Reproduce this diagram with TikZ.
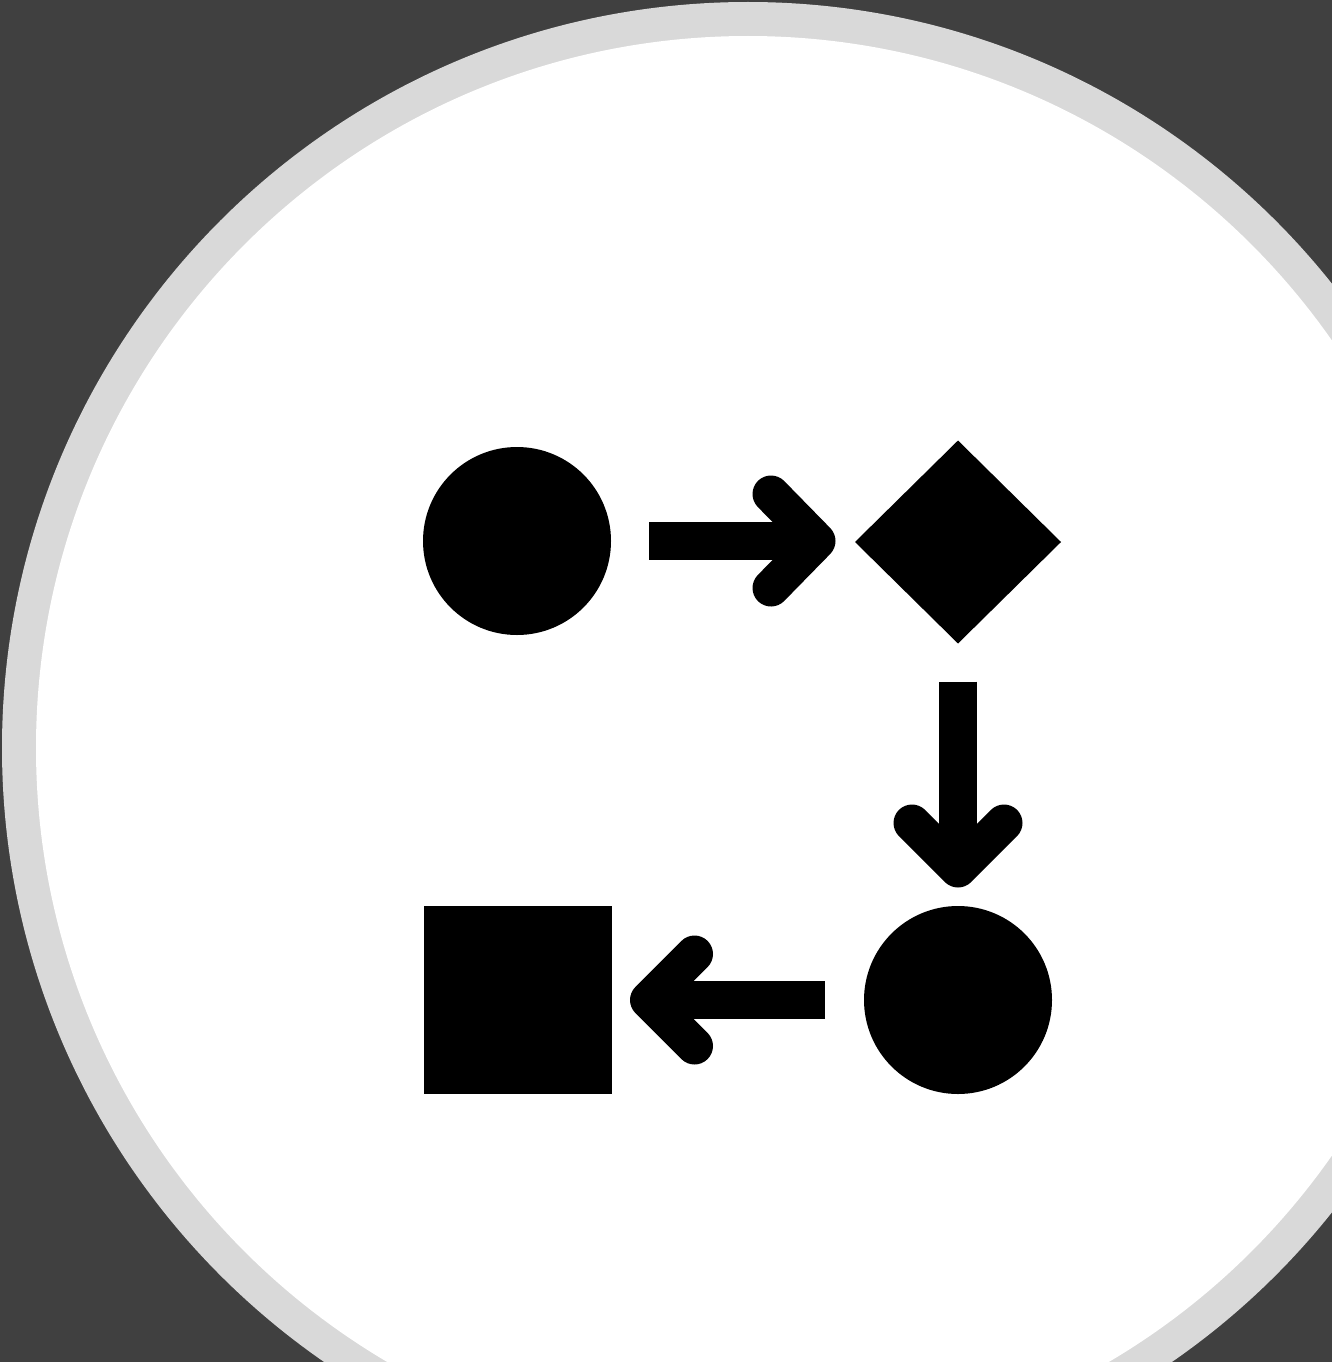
\documentclass[tikz,border=0pt]{standalone}
\usetikzlibrary{calc,shapes.geometric}
\definecolor{bgdark}{HTML}{404040}
\definecolor{ringgray}{HTML}{D9D9D9}
\begin{document}
\begin{tikzpicture}[x=1pt,y=-1pt,
  shapefill/.style={fill=black,draw=none,inner sep=0pt,outer sep=0pt},
  shaft/.style={line width=38pt,line cap=butt,draw=black},
  chev/.style={line width=37pt,line cap=round,line join=round,draw=black}]
  % background and ring
  \fill[bgdark] (0,0) rectangle (1332,1362);
  \useasboundingbox (0,0) rectangle (1332,1362);
  \begin{scope}
    \clip (0,0) rectangle (1332,1362);
    \fill[ringgray] (748,748) circle[radius=746];
    \fill[white] (748,748) circle[radius=712];
  \end{scope}
  % shapes
  \node[shapefill,circle,minimum size=188pt] (c1) at (517,541) {};
  \node[shapefill,diamond,minimum width=206pt,minimum height=203pt] (d) at (958,542) {};
  \node[shapefill,circle,minimum size=188pt] (c2) at (958,1000) {};
  \node[shapefill,rectangle,minimum size=188pt] (sq) at (517.5,1000) {};
  % connector 1: c1 -> d
  \coordinate (a1s) at ([xshift=38pt]c1.east);
  \coordinate (a1t) at ([xshift=-38pt]d.west |- c1.east);
  \draw[shaft] (a1s) -- (a1t);
  \draw[chev] ($(a1t)+(-46,-47)$) -- (a1t) -- ($(a1t)+(-46,47)$);
  % connector 2: d -> c2
  \coordinate (a2s) at ([yshift=-38pt]d.south);
  \coordinate (a2t) at ([yshift=37pt]c2.north);
  \draw[shaft] (a2s) -- (a2t);
  \draw[chev] ($(a2t)+(-46,-46)$) -- (a2t) -- ($(a2t)+(46,-46)$);
  % connector 3: c2 -> sq
  \coordinate (a3s) at ([xshift=-39pt]c2.west);
  \coordinate (a3t) at ([xshift=37pt]sq.east);
  \draw[shaft] (a3s) -- (a3t);
  \draw[chev] ($(a3t)+(46,-46)$) -- (a3t) -- ($(a3t)+(46,46)$);
\end{tikzpicture}
\end{document}
